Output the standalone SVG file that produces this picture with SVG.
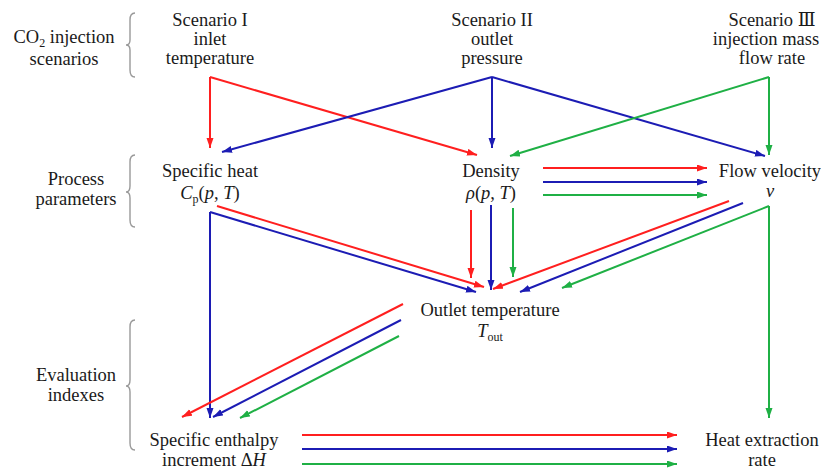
<svg xmlns="http://www.w3.org/2000/svg" width="821" height="472" viewBox="0 0 821 472">
<defs>
<style>
text{font-family:"Liberation Serif","Times New Roman","DejaVu Serif",serif;font-size:18.5px;fill:#1a1a1a;text-anchor:middle}
.it{font-style:italic}
.sub{font-size:12px}
.brace{fill:none;stroke:#999;stroke-width:1.4}
.r{stroke:#ff1f1f;stroke-width:2;fill:none}
.b{stroke:#1c1cb4;stroke-width:2;fill:none}
.g{stroke:#1fb045;stroke-width:2;fill:none}
.r.a{marker-end:url(#mr)}
.b.a{marker-end:url(#mb)}
.g.a{marker-end:url(#mg)}
</style>
<marker id="mr" markerUnits="userSpaceOnUse" markerWidth="11" markerHeight="8" refX="10" refY="3.5" orient="auto"><path d="M0,0 L10,3.5 L0,7 z" fill="#ff1f1f"/></marker>
<marker id="mb" markerUnits="userSpaceOnUse" markerWidth="11" markerHeight="8" refX="10" refY="3.5" orient="auto"><path d="M0,0 L10,3.5 L0,7 z" fill="#1c1cb4"/></marker>
<marker id="mg" markerUnits="userSpaceOnUse" markerWidth="11" markerHeight="8" refX="10" refY="3.5" orient="auto"><path d="M0,0 L10,3.5 L0,7 z" fill="#1fb045"/></marker>
</defs>
<rect width="821" height="472" fill="#fff"/>

<g id="row-labels" font-family="Liberation Serif, serif">
<text x="64" y="43">CO<tspan class="sub" dy="4">2</tspan><tspan dy="-4"> injection</tspan></text>
<text x="64" y="65">scenarios</text>
<path class="brace" d="M135,13 Q130,13 130,20 L130,40 Q130,45 126,45 Q130,45 130,50 L130,70 Q130,77 135,77"/>
<text x="76" y="185">Process</text>
<text x="76" y="205">parameters</text>
<path class="brace" d="M135,155 Q130,155 130,162 L130,186 Q130,192 126,192 Q130,192 130,198 L130,220 Q130,227 135,227"/>
<text x="76" y="381">Evaluation</text>
<text x="76" y="401">indexes</text>
<path class="brace" d="M135,320 Q130,320 130,327 L130,380 Q130,386 126,386 Q130,386 130,392 L130,443 Q130,450 135,450"/>
</g>

<g id="scenario1">
<text x="210" y="26">Scenario I</text>
<text x="210" y="45">inlet</text>
<text x="210" y="64">temperature</text>
</g>
<g id="scenario2">
<text x="492" y="26">Scenario II</text>
<text x="492" y="45">outlet</text>
<text x="492" y="64">pressure</text>
</g>
<g id="scenario3">
<text x="772" y="26">Scenario Ⅲ</text>
<text x="766" y="45">injection mass</text>
<text x="772" y="64">flow rate</text>
</g>

<g id="specific-heat">
<text x="210" y="177">Specific heat</text>
<text x="210" y="199"><tspan class="it">C</tspan><tspan class="sub" dy="4">p</tspan><tspan dy="-4">(</tspan><tspan class="it">p</tspan>, <tspan class="it">T</tspan>)</text>
</g>
<g id="density">
<text x="491" y="177">Density</text>
<text x="491" y="199"><tspan class="it">ρ</tspan>(<tspan class="it">p</tspan>, <tspan class="it">T</tspan>)</text>
</g>
<g id="flow-velocity">
<text x="770" y="177">Flow velocity</text>
<text x="770" y="197" class="it">v</text>
</g>
<g id="outlet-temperature">
<text x="490" y="316">Outlet temperature</text>
<text x="490" y="337"><tspan class="it">T</tspan><tspan class="sub" dy="4">out</tspan></text>
</g>
<g id="specific-enthalpy">
<text x="214" y="446">Specific enthalpy</text>
<text x="214" y="466">increment Δ<tspan class="it">H</tspan></text>
</g>
<g id="heat-extraction">
<text x="762" y="446">Heat extraction</text>
<text x="762" y="466">rate</text>
</g>

<g id="connectors">
<path class="r a" d="M210,77 V148"/>
<path class="r a" d="M210,77 L477,155"/>
<path class="b a" d="M492,77 V148"/>
<path class="b a" d="M492,77 L222,152"/>
<path class="b a" d="M492,77 L765,156"/>
<path class="g a" d="M769,77 V155"/>
<path class="g a" d="M769,77 L510,156"/>
<path class="r a" d="M543,168 H707"/>
<path class="b a" d="M543,182 H707"/>
<path class="g a" d="M543,195 H707"/>
<path class="r a" d="M217,206 L484,287"/>
<path class="b a" d="M210,212 L476,292"/>
<path class="b a" d="M210,212 V418"/>
<path class="r a" d="M471,210 V278"/>
<path class="b a" d="M491,205 V290"/>
<path class="g a" d="M513,208 V277"/>
<path class="r a" d="M729,201 L493,289"/>
<path class="b a" d="M743,203 L520,292"/>
<path class="g a" d="M769,206 L562,288"/>
<path class="g a" d="M769,206 V418"/>
<path class="r a" d="M403,304 L182,417"/>
<path class="b a" d="M401,320 L213,417"/>
<path class="g a" d="M399,336 L240,418"/>
<path class="r a" d="M302,435 H677"/>
<path class="b a" d="M302,449 H677"/>
<path class="g a" d="M302,464 H677"/>
</g>
</svg>
